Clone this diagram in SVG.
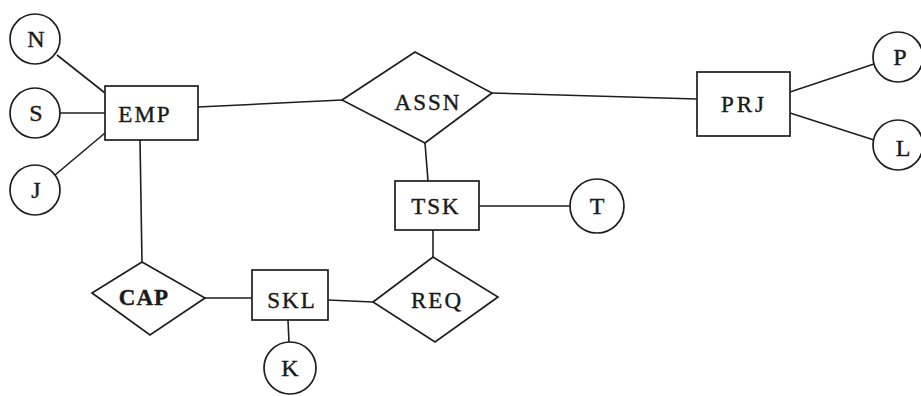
<svg xmlns="http://www.w3.org/2000/svg" width="921" height="396" viewBox="0 0 921 396">
<style>
.s{fill:#fff;stroke:#1e1e1e;stroke-width:1.7}
.c line{stroke:#1e1e1e;stroke-width:1.6}
text{font-family:"Liberation Serif","DejaVu Serif",serif;font-size:23px;letter-spacing:2px;fill:#1a1a1a;text-anchor:middle;dominant-baseline:central;stroke:#1a1a1a;stroke-width:0.4}
.b{font-weight:bold;letter-spacing:1px}
.one{letter-spacing:0;font-size:24px}
</style>
<rect width="921" height="396" fill="#fff"/>
<g class="c" id="connectors">
<line x1="57" y1="55" x2="105" y2="93"/>
<line x1="60" y1="113" x2="105" y2="113"/>
<line x1="55" y1="175" x2="105" y2="133"/>
<line x1="198" y1="107" x2="342" y2="100"/>
<line x1="492" y1="93" x2="697" y2="99"/>
<line x1="790" y1="92" x2="874" y2="64"/>
<line x1="790" y1="113" x2="874" y2="140"/>
<line x1="425" y1="143" x2="428" y2="181"/>
<line x1="479" y1="206" x2="570" y2="206"/>
<line x1="433" y1="230" x2="433" y2="257"/>
<line x1="140" y1="140" x2="142" y2="262"/>
<line x1="205" y1="298" x2="252" y2="298"/>
<line x1="328" y1="300" x2="373" y2="302"/>
<line x1="288" y1="320" x2="289" y2="342"/>
</g>
<g id="N"><circle class="s" cx="35" cy="39" r="25"/><text class="one" x="36" y="39">N</text></g>
<g id="S"><circle class="s" cx="35" cy="113" r="25"/><text class="one" x="36" y="113">S</text></g>
<g id="J"><circle class="s" cx="35" cy="190" r="25"/><text class="one" x="36" y="190">J</text></g>
<g id="EMP"><rect class="s" x="105" y="86" width="93" height="54"/><text x="145" y="114">EMP</text></g>
<g id="ASSN"><polygon class="s" points="342,100 415,52 492,93 425,143"/><text x="428" y="102">ASSN</text></g>
<g id="PRJ"><rect class="s" x="697" y="72" width="93" height="64"/><text x="744" y="104" style="letter-spacing:3px">PRJ</text></g>
<g id="P"><circle class="s" cx="898" cy="57" r="25"/><text class="one" x="900" y="57">P</text></g>
<g id="L"><circle class="s" cx="898" cy="145" r="25"/><text class="one" x="903" y="148">L</text></g>
<g id="TSK"><rect class="s" x="395" y="181" width="84" height="49"/><text x="436" y="206">TSK</text></g>
<g id="T"><circle class="s" cx="597" cy="206" r="27"/><text class="one" x="597" y="206">T</text></g>
<g id="CAP"><polygon class="s" points="92,293 142,262 205,298 150,335"/><text class="b" x="144" y="297">CAP</text></g>
<g id="SKL"><rect class="s" x="252" y="270" width="76" height="50"/><text x="292" y="300">SKL</text></g>
<g id="K"><circle class="s" cx="290" cy="368" r="26"/><text class="one" x="290" y="368">K</text></g>
<g id="REQ"><polygon class="s" points="373,302 433,257 498,297 435,342"/><text x="437" y="300">REQ</text></g>
</svg>
